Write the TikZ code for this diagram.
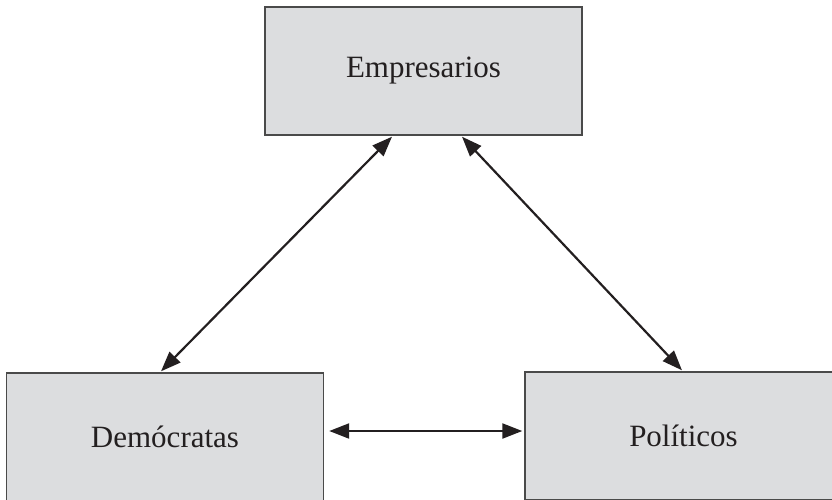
\documentclass[tikz,border=0pt]{standalone}
\usepackage{fontspec}
\setmainfont{Liberation Serif}
\usetikzlibrary{arrows.meta}
\definecolor{boxfill}{HTML}{DCDDDF}
\definecolor{boxline}{HTML}{4A4A4A}
\definecolor{arrowcol}{HTML}{231F20}
\begin{document}
\begin{tikzpicture}[x=1pt,y=-1pt,
  actor/.style={draw=boxline,line width=1.4pt,fill=boxfill,minimum width=317pt,minimum height=128pt,inner sep=0pt,font=\fontsize{31}{36}\selectfont,text=arrowcol},
  link/.style={draw=arrowcol,line width=2.2pt,{Triangle[length=20pt,width=15pt]}-{Triangle[length=20pt,width=15pt]}}]
\useasboundingbox (0,0) rectangle (832,499);
\clip (0,0) rectangle (832,499);
\node[actor] (emp) at (423.5,71) {Empresarios};
\node[actor] (dem) at (165,437) {Demócratas};
\node[actor] (pol) at (683.5,436) {Políticos};
\draw[link] ([xshift=-4pt,yshift=1pt]dem.north) -- ([xshift=-31.5pt,yshift=-1pt]emp.south);
\draw[link] ([xshift=38.5pt,yshift=-1pt]emp.south) -- ([xshift=-1.5pt,yshift=1pt]pol.north);
\draw[link] ([xshift=5pt,yshift=6pt]dem.east) -- ([xshift=-2pt,yshift=5pt]pol.west);
\end{tikzpicture}
\end{document}
